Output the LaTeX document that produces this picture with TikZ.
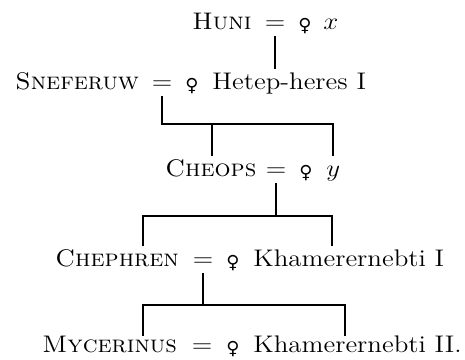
\documentclass[tikz,border=0pt]{standalone}
\usepackage{fontspec}
\usepackage{graphicx}
\newfontfamily\symfamily{DejaVu Sans}
\newcommand{\sxt}[1]{\scalebox{1.12}[1]{#1}}
\newcommand{\sxn}[1]{\scalebox{1.05}[1]{\textsc{#1}}}
\newcommand{\femsign}{{\symfamily\fontsize{9}{10}\selectfont ♀}}
\begin{document}
\begin{tikzpicture}[x=0.5pt,y=-0.5pt,
  txt/.style={inner sep=0pt, anchor=base west, font=\fontsize{12}{14}\selectfont, text height=10.5pt, text depth=0pt},
  eqn/.style={inner sep=0pt, anchor=base, font=\fontsize{12}{14}\selectfont, text height=6pt, text depth=4pt},
  femn/.style={inner sep=0pt, anchor=base},
  link/.style={line width=1.2pt, line cap=rect}]
\useasboundingbox (0,0) rectangle (465,359);
% generation 1
\node[txt] (huni) at (192,29) {\sxn{Huni}};
\node[eqn] (eq1) at (275,29) {\sxt{$=$}};
\node[femn] (f1) at (305,31) {\femsign};
\node[txt] (x1) at (323,29) {\sxt{$x$}};
% generation 2
\node[txt] (snef) at (15,89) {\sxn{Sneferuw}};
\node[eqn] (eq2) at (162,89) {\sxt{$=$}};
\node[femn] (f2) at (192,91) {\femsign};
\node[txt] (hetep) at (212,89) {\sxt{Hetep-heres I}};
% generation 3
\node[txt] (cheops) at (165,176) {\sxn{Cheops}};
\node[eqn] (eq3) at (276,176) {\sxt{$=$}};
\node[femn] (f3) at (306,178) {\femsign};
\node[txt] (y1) at (326,176) {\sxt{$y$}};
% generation 4
\node[txt] (chephren) at (55,266) {\sxn{Chephren}};
\node[eqn] (eq4) at (203,266) {\sxt{$=$}};
\node[femn] (f4) at (233,268) {\femsign};
\node[txt] (kham1) at (253,266) {\sxt{Khamerernebti I}};
% generation 5
\node[txt, text height=8.5pt] (myc) at (42,352) {\sxn{Mycerinus}};
\node[eqn] (eq5) at (202,352) {\sxt{$=$}};
\node[femn] (f5) at (233,354) {\femsign};
\node[txt, text height=8.5pt] (kham2) at (253,352) {\sxt{Khamerernebti II.}};
% bar levels
\coordinate (bA1) at (212,124);
\coordinate (bA2) at (333,124);
\coordinate (bB1) at (143,216);
\coordinate (bB2) at (332,216);
\coordinate (bC1) at (143,305);
\coordinate (bC2) at (345,305);
% connectors
\draw[link] (eq1.south) -- (eq1.south |- hetep.north);
\draw[link] (eq2.south) -- (eq2.south |- bA2) -- (bA2) -- (bA2 |- y1.north);
\draw[link] (bA1) -- (bA1 |- cheops.north);
\draw[link] (eq3.south) -- (eq3.south |- bB1);
\draw[link] (bB1 |- chephren.north) -- (bB1) -- (bB2) -- (bB2 |- kham1.north);
\draw[link] (eq4.south) -- (eq4.south |- bC1);
\draw[link] (bC1 |- myc.north) -- (bC1) -- (bC2) -- (bC2 |- kham2.north);
\end{tikzpicture}
\end{document}
